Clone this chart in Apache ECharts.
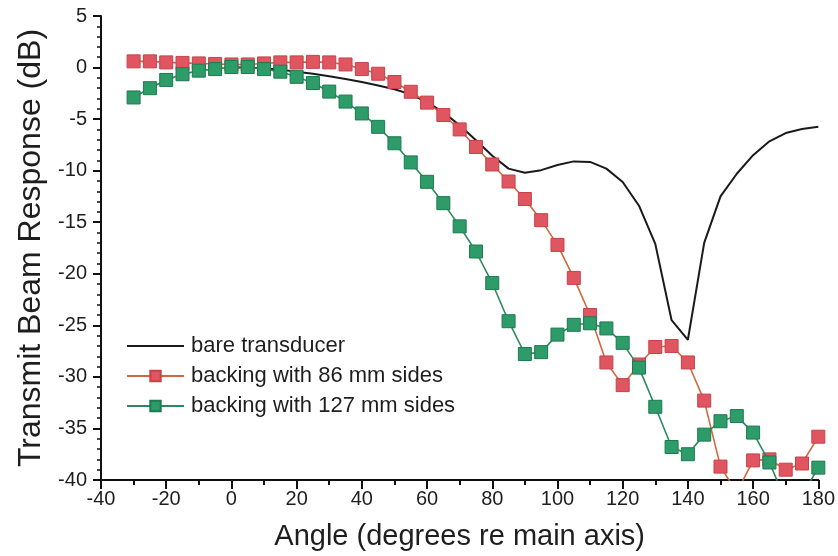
<!DOCTYPE html>
<html>
<head>
<meta charset="utf-8">
<script src="https://cdn.jsdelivr.net/npm/echarts@6/dist/echarts.min.js"></script>
<style>
  html, body { margin: 0; padding: 0; background: #ffffff; }
  #chart { width: 838px; height: 556px; }
</style>
</head>
<body>
<div id="chart"></div>
<script>
// Angles (degrees re main axis) for the two backing measurements
const angles = [-30, -25, -20, -15, -10, -5, 0, 5, 10, 15, 20, 25, 30, 35, 40, 45, 50, 55, 60, 65,
  70, 75, 80, 85, 90, 95, 100, 105, 110, 115, 120, 125, 130, 135, 140, 145, 150, 155, 160, 165,
  170, 175, 180];

// Backing with 86 mm sides (dB)
const backing86 = [0.6, 0.6, 0.5, 0.45, 0.4, 0.35, 0.3, 0.3, 0.4, 0.5, 0.5, 0.55, 0.5, 0.3, -0.15,
  -0.6, -1.4, -2.35, -3.4, -4.6, -6.0, -7.7, -9.4, -11.05, -12.75, -14.8, -17.2, -20.4, -24.0,
  -28.6, -30.8, -28.8, -27.1, -27.0, -28.6, -32.3, -38.7, -41.2, -38.1, -38.0, -39.0, -38.4, -35.8];

// Backing with 127 mm sides (dB)
const backing127 = [-2.9, -2.0, -1.2, -0.65, -0.3, -0.15, 0.05, 0.05, -0.15, -0.4, -0.9, -1.5,
  -2.33, -3.3, -4.45, -5.75, -7.34, -9.2, -11.08, -13.15, -15.4, -17.84, -20.9, -24.6, -27.78,
  -27.6, -25.9, -24.95, -24.8, -25.3, -26.7, -29.1, -32.9, -36.8, -37.5, -35.6, -34.3, -33.8,
  -35.4, -38.3, -42.0, -41.5, -38.8];

// Bare transducer response
const bareAngles = [0, 5, 10, 15, 20, 25, 30, 35, 40, 45, 50, 55, 60, 65, 70, 75, 80, 85, 90, 95,
  100, 105, 110, 115, 120, 125, 130, 135, 140, 145, 150, 155, 160, 165, 170, 175, 180];
const bare = [0.0, 0.0, -0.1, -0.2, -0.4, -0.6, -0.85, -1.1, -1.4, -1.75, -2.1, -2.6, -3.35, -4.35,
  -5.6, -7.05, -8.55, -9.8, -10.2, -9.95, -9.45, -9.1, -9.15, -9.8, -11.1, -13.4, -17.1, -24.5,
  -26.4, -17.0, -12.5, -10.3, -8.5, -7.15, -6.35, -5.95, -5.75];

const seriesNames = ['bare transducer', 'backing with 86 mm sides', 'backing with 127 mm sides'];

const pair = (xs, ys) => xs.map((x, i) => [x, ys[i]]);

const FONT = '"Liberation Sans", Arial, Helvetica, sans-serif';
const INK = '#1e1e1e';

const chart = echarts.init(document.getElementById('chart'), null, { renderer: 'canvas' });

chart.setOption({
  backgroundColor: '#ffffff',
  animation: false,
  textStyle: { fontFamily: FONT, color: INK },
  grid: { left: 101, right: 18, top: 16, bottom: 76, containLabel: false },
  legend: {
    orient: 'vertical',
    left: 121,
    top: 330,
    itemWidth: 57,
    itemHeight: 13,
    itemGap: 8,
    data: [
      // plain line sample, no marker
      { name: seriesNames[0], itemStyle: { opacity: 0 } },
      { name: seriesNames[1] },
      { name: seriesNames[2] }
    ],
    textStyle: { fontFamily: FONT, fontSize: 22, color: INK, padding: [0, 0, 0, 2] }
  },
  xAxis: {
    type: 'value',
    min: -40,
    max: 180,
    interval: 20,
    name: 'Angle (degrees re main axis)',
    nameLocation: 'middle',
    nameGap: 42,
    nameTextStyle: { fontFamily: FONT, fontSize: 29, color: INK },
    axisLine: { onZero: false, lineStyle: { color: '#111', width: 2 } },
    axisTick: { show: true, inside: false, length: 9, lineStyle: { color: '#111', width: 2 } },
    minorTick: { show: true, splitNumber: 2, length: 5, lineStyle: { color: '#111', width: 2 } },
    axisLabel: { fontFamily: FONT, fontSize: 20, color: INK, margin: 9 },
    splitLine: { show: false }
  },
  yAxis: {
    type: 'value',
    min: -40,
    max: 5,
    interval: 5,
    name: 'Transmit Beam Response (dB)',
    nameLocation: 'middle',
    nameGap: 54,
    nameTextStyle: { fontFamily: FONT, fontSize: 32, color: INK },
    axisLine: { onZero: false, lineStyle: { color: '#111', width: 2 } },
    axisTick: { show: true, inside: false, length: 8, lineStyle: { color: '#111', width: 2 } },
    minorTick: { show: true, splitNumber: 5, length: 4, lineStyle: { color: '#111', width: 1.5 } },
    axisLabel: { fontFamily: FONT, fontSize: 20, color: INK, margin: 14 },
    splitLine: { show: false }
  },
  series: [
    {
      name: seriesNames[0],
      type: 'line',
      data: pair(bareAngles, bare),
      symbol: 'none',
      color: '#1a1a1a',
      lineStyle: { color: '#1a1a1a', width: 2 },
      clip: true,
      z: 2
    },
    {
      name: seriesNames[1],
      type: 'line',
      data: pair(angles, backing86),
      symbol: 'rect',
      symbolSize: 13,
      color: '#e05660',
      itemStyle: { color: '#e05660', borderColor: '#c8404a', borderWidth: 1 },
      lineStyle: { color: '#d2673f', width: 1.6 },
      clip: true,
      z: 3
    },
    {
      name: seriesNames[2],
      type: 'line',
      data: pair(angles, backing127),
      symbol: 'rect',
      symbolSize: 13,
      color: '#2e9c68',
      itemStyle: { color: '#2e9c68', borderColor: '#1d7a50', borderWidth: 1 },
      lineStyle: { color: '#2a8a5c', width: 1.6 },
      clip: true,
      z: 4
    }
  ]
});
</script>
</body>
</html>
